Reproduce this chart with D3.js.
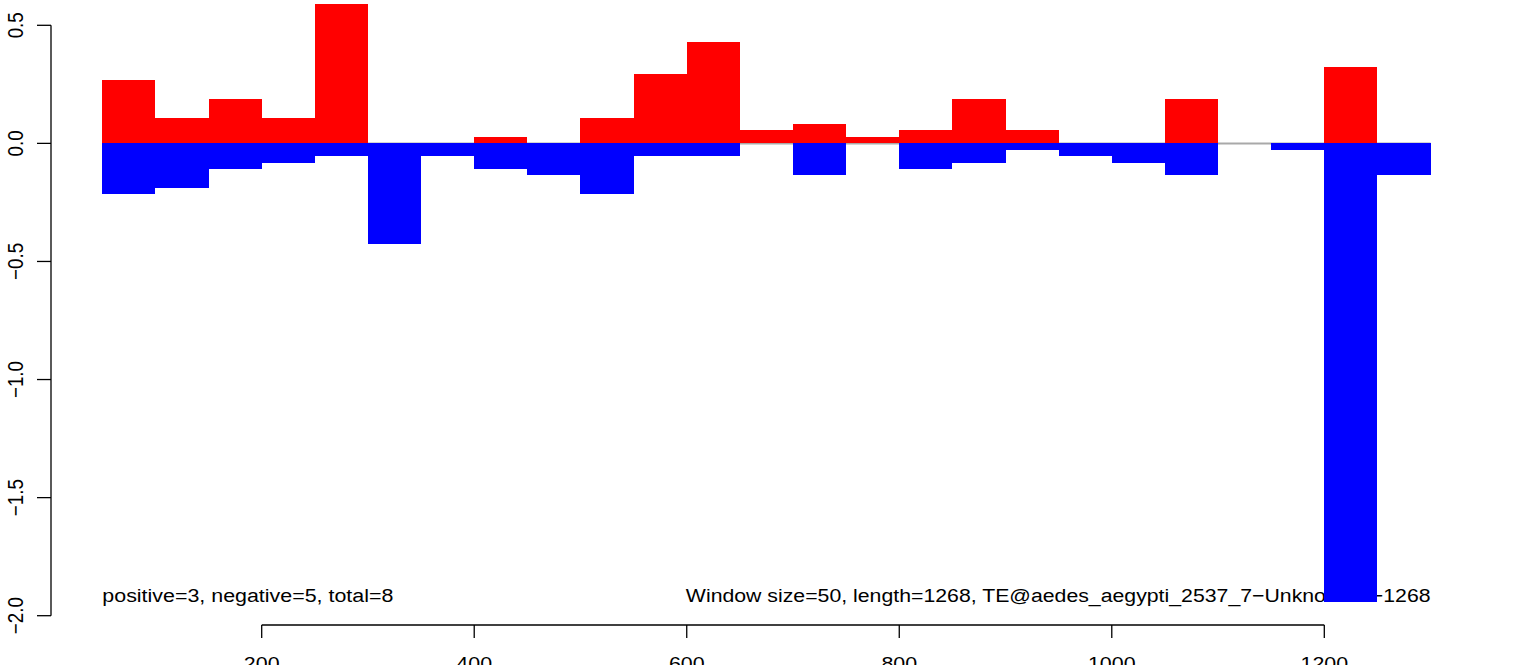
<!DOCTYPE html>
<html>
<head>
<meta charset="utf-8">
<script src="https://cdn.jsdelivr.net/npm/d3@7"></script>
<style>
  html, body { margin: 0; padding: 0; background: #ffffff; }
  svg { display: block; }
  text { font-family: "Liberation Sans", Arial, Helvetica, sans-serif; fill: #000; }
</style>
</head>
<body>
<svg id="chart" width="1536" height="665"></svg>
<script>
// ---- data ----
const windowSize = 50;
const windowStarts = [50,100,150,200,250,300,350,400,450,500,550,600,650,700,750,800,850,900,950,1000,1050,1100,1150,1200,1250];
const positiveValues = [0.269,0.109,0.189,0.109,0.590,0,0,0.029,0,0.109,0.294,0.429,0.055,0.080,0.029,0.055,0.189,0.055,0,0,0.189,0,0,0.324,0];
const negativeValues = [-0.213,-0.188,-0.108,-0.083,-0.053,-0.427,-0.053,-0.108,-0.133,-0.213,-0.053,-0.053,0,-0.133,0,-0.108,-0.083,-0.028,-0.053,-0.083,-0.133,0,-0.028,-1.94,-0.133];
const xTicks = [200,400,600,800,1000,1200];
const yTicks = [0.5,0.0,-0.5,-1.0,-1.5,-2.0];
const leftNote = "positive=3, negative=5, total=8";
const rightNote = "Window size=50, length=1268, TE@aedes_aegypti_2537_7\u2212Unknown:1\u22121268";

// ---- layout ----
const svg = d3.select("#chart");
const x = d3.scaleLinear().domain([200, 1200]).range([261.7, 1324.3]);
const y = d3.scaleLinear().domain([0.5, -2.0]).range([25.3, 615.7]);
const fontSize = 18.8;
const sx = 1.14; // horizontal stretch of glyphs
const fmtY = v => (v < 0 ? "\u2212" : "") + Math.abs(v).toFixed(1);

// zero line
const xMin = d3.min(windowStarts), xMax = d3.max(windowStarts) + windowSize;
svg.append("line")
  .attr("x1", x(xMin)).attr("x2", x(xMax))
  .attr("y1", y(0)).attr("y2", y(0))
  .attr("stroke", "#a9a9a9").attr("stroke-width", 2);

// notes
const noteY = -1.915;
svg.append("text")
  .attr("transform", `translate(${x(xMin)},${y(noteY)}) scale(${sx},1)`)
  .attr("dominant-baseline", "central")
  .attr("font-size", fontSize)
  .text(leftNote);
svg.append("text")
  .attr("transform", `translate(${x(xMax)},${y(noteY)}) scale(${sx * 0.993},1)`)
  .attr("dominant-baseline", "central")
  .attr("text-anchor", "end")
  .attr("font-size", fontSize)
  .text(rightNote);

// bars
const rows = windowStarts.map((s, i) => ({ s, pos: positiveValues[i], neg: negativeValues[i] }));
svg.append("g").selectAll("rect.pos").data(rows.filter(d => d.pos > 0)).join("rect")
  .attr("x", d => x(d.s)).attr("width", d => x(d.s + windowSize) - x(d.s))
  .attr("y", d => y(d.pos)).attr("height", d => y(0) - y(d.pos))
  .attr("fill", "#ff0000").attr("shape-rendering", "crispEdges");
svg.append("g").selectAll("rect.neg").data(rows.filter(d => d.neg < 0)).join("rect")
  .attr("x", d => x(d.s)).attr("width", d => x(d.s + windowSize) - x(d.s))
  .attr("y", y(0)).attr("height", d => y(d.neg) - y(0))
  .attr("fill", "#0000ff").attr("shape-rendering", "crispEdges");

// y axis
const yAxisX = 51;
const yg = svg.append("g").attr("stroke", "#000").attr("stroke-width", 1.3);
yg.append("line").attr("x1", yAxisX).attr("x2", yAxisX)
  .attr("y1", y(d3.max(yTicks))).attr("y2", y(d3.min(yTicks)));
yg.selectAll("line.t").data(yTicks).join("line")
  .attr("x1", yAxisX - 14).attr("x2", yAxisX)
  .attr("y1", d => y(d)).attr("y2", d => y(d));
svg.append("g").selectAll("text").data(yTicks).join("text")
  .attr("transform", d => `translate(23,${y(d)}) scale(${sx},1) rotate(-90)`)
  .attr("text-anchor", "middle")
  .attr("font-size", fontSize)
  .text(fmtY);

// x axis
const xAxisY = 625;
const xg = svg.append("g").attr("stroke", "#000").attr("stroke-width", 1.3);
xg.append("line").attr("x1", x(d3.min(xTicks))).attr("x2", x(d3.max(xTicks)))
  .attr("y1", xAxisY).attr("y2", xAxisY);
xg.selectAll("line.t").data(xTicks).join("line")
  .attr("x1", d => x(d)).attr("x2", d => x(d))
  .attr("y1", xAxisY).attr("y2", xAxisY + 13);
svg.append("g").selectAll("text").data(xTicks).join("text")
  .attr("transform", d => `translate(${x(d)},${xAxisY + 45}) scale(${sx},1)`)
  .attr("text-anchor", "middle")
  .attr("font-size", fontSize)
  .text(d => d);
</script>
</body>
</html>
